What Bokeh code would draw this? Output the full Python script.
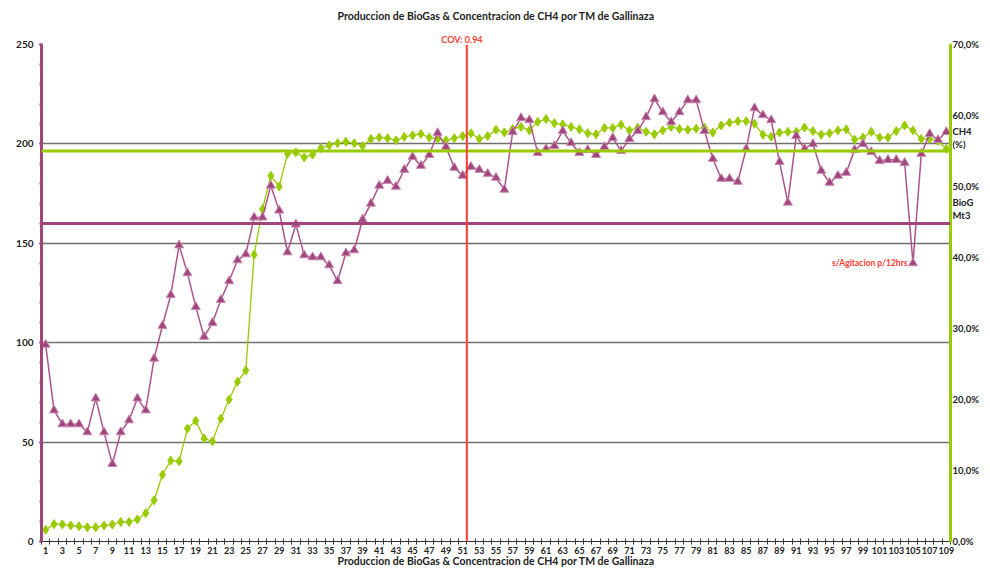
from bokeh.plotting import figure
from bokeh.models import Range1d, LinearAxis, FixedTicker, Span, Label, Title
from bokeh.embed import file_html
from bokeh.resources import INLINE

# ---------------- data ----------------
days = list(range(1, 110))

biogas = [
    99, 66, 59, 59, 59, 55, 72, 55, 39, 55,
    61, 72, 66, 92, 108.5, 124, 149, 135, 118, 103,
    110, 121.5, 131, 141.5, 144.5, 163, 163, 179, 166.5, 145.5,
    159.5, 144, 143, 143, 139, 131, 145, 146.5, 162, 170,
    179, 181.5, 178.5, 187, 193.5, 189, 194.5, 205.5, 198.5, 188,
    184, 188.5, 187, 185, 183, 177, 206, 213, 212, 195.5,
    197.5, 199, 206.5, 200.5, 195.5, 197, 194.5, 198.5, 203, 196.5,
    202.5, 206.5, 213.5, 222.5, 216, 211, 216, 222, 222, 206.5,
    192.5, 182.5, 182.5, 181, 197.5, 218, 214.5, 212, 191, 170.5,
    204, 197.5, 200, 186.5, 180.5, 184, 185.5, 197, 200, 196,
    191.5, 192, 192, 190.5, 140, 195, 205, 202, 206,
]

ch4 = [
    1.65, 2.45, 2.4, 2.25, 2.15, 2.0, 2.0, 2.25, 2.4, 2.75,
    2.75, 3.1, 4.0, 5.8, 9.4, 11.4, 11.3, 15.9, 17.0, 14.5,
    14.1, 17.3, 20.0, 22.5, 24.1,
    40.4, 46.8, 51.5, 50.0, 54.6, 54.8, 54.1, 54.5, 55.4, 55.8,
    56.1, 56.3, 56.1, 55.7, 56.7, 56.9, 56.8, 56.5, 57.0, 57.2, 57.4,
    56.9, 56.7, 56.5, 56.8, 57.1, 57.5, 56.7, 57.1, 58.0, 57.6,
    58.1, 58.4, 57.9, 59.1, 59.5, 58.9, 58.75, 58.4, 58.05, 57.5,
    57.35, 58.25, 58.25,
    58.7, 57.9, 58.3, 57.7, 57.35, 57.9, 58.4, 58.1, 58.0, 58.15,
    58.3, 57.6, 58.6, 59.0, 59.2, 59.2, 58.85, 57.3, 57.0, 57.6,
    57.7, 57.7,
    58.3, 57.8, 57.3, 57.5, 57.9, 58.05, 56.6, 56.9, 57.7, 56.9,
    56.9, 57.8, 58.6, 57.9, 56.7, 56.7, 56.4, 55.3,
]

x_tick_values = [d for d in days if d % 2 == 1]
x_tick_labels = [str(d) for d in x_tick_values]
left_ticks = [0, 50, 100, 150, 200, 250]
right_ticks = [0, 10, 20, 30, 40, 50, 60, 70]
right_tick_labels = ["0,0%", "10,0%", "20,0%", "30,0%", "40,0%", "50,0%", "60,0%", "70,0%"]

biogas_ref = 160
ch4_ref = 55
cov_position = 51.5
cov_text = "COV: 0.94"
note_day = 105
note_text = "s/Agitacion p/12hrs"
title_text = "Produccion de BioGas & Concentracion de CH4 por TM de Gallinaza"
legend_ch4 = "CH4\n(%)"
legend_bio = "BioG\nMt3"

# ---------------- style / layout ----------------
MAG = "#A0467D"
MAG_LINE = "#AC5589"
GRN = "#99CC00"
RED = "#FF3B2F"
INK = "#222222"
FONT = "Lato"

W, H = 982, 569
BL, BR, BT, BB = 41, 30, 44, 25
X0, X1 = 0.5, 109.5
legend_ch4_pos = 56.8   # vertical slot (right scale) of the CH4 key
legend_bio_pos = 46.8   # vertical slot (right scale) of the BioG key

p = figure(width=W, height=H,
           x_range=Range1d(X0, X1), y_range=Range1d(0, 250),
           output_backend="svg", toolbar_location=None, title_location=None,
           min_border_left=BL, min_border_right=BR,
           min_border_top=BT, min_border_bottom=BB,
           background_fill_color="white", border_fill_color="white")
p.outline_line_color = None

# titles above the frame: first added sits nearest the frame
frame_w_est = W - BL - 33
cov_offset = (cov_position - X0) / (X1 - X0) * frame_w_est - 25
p.add_layout(Title(text=cov_text, align="left", offset=cov_offset,
                   text_font=FONT, text_font_size="9px", text_font_style="bold",
                   text_color=RED, standoff=0), "above")
p.add_layout(Title(text=title_text, align="center", vertical_align="top",
                   text_font=FONT, text_font_size="10.5px", text_font_style="bold",
                   text_color=INK, standoff=16), "above")

p.extra_y_ranges = {"pct": Range1d(0, 70)}

# x axis
xa = p.xaxis[0]
xa.ticker = FixedTicker(ticks=x_tick_values, minor_ticks=[d - 0.5 for d in days] + [days[-1] + 0.5])
xa.major_label_overrides = {v: l for v, l in zip(x_tick_values, x_tick_labels)}
xa.major_tick_line_color = None
xa.major_tick_in = 0
xa.major_tick_out = 0
xa.minor_tick_in = 3
xa.minor_tick_out = 3
xa.minor_tick_line_color = "#333333"
xa.axis_line_color = "#333333"
xa.major_label_text_font = FONT
xa.major_label_text_font_size = "9px"
xa.major_label_text_font_style = "bold"
xa.major_label_text_color = INK
xa.major_label_standoff = 2
xa.axis_label = title_text
xa.axis_label_text_font = FONT
xa.axis_label_text_font_size = "10.5px"
xa.axis_label_text_font_style = "bold"
xa.axis_label_text_color = INK
xa.axis_label_standoff = -2

# left axis
ya = p.yaxis[0]
ya.ticker = FixedTicker(ticks=left_ticks, minor_ticks=list(range(0, 251, 10)))
ya.axis_line_color = MAG
ya.axis_line_width = 3
ya.major_tick_line_color = MAG
ya.major_tick_line_width = 2
ya.major_tick_in = 1
ya.major_tick_out = 2
ya.minor_tick_line_color = MAG
ya.minor_tick_line_width = 2
ya.minor_tick_in = 1
ya.minor_tick_out = 2
ya.major_label_text_font = FONT
ya.major_label_text_font_size = "10px"
ya.major_label_text_font_style = "bold"
ya.major_label_text_color = INK
ya.major_label_standoff = 6

# right axis (also carries the two series keys)
ra = LinearAxis(y_range_name="pct")
ra.ticker = FixedTicker(ticks=right_ticks + [legend_bio_pos, legend_ch4_pos],
                        minor_ticks=list(range(0, 71, 2)))
overrides = {v: l for v, l in zip(right_ticks, right_tick_labels)}
overrides[legend_ch4_pos] = legend_ch4
overrides[legend_bio_pos] = legend_bio
ra.major_label_overrides = overrides
ra.axis_line_color = GRN
ra.axis_line_width = 3
ra.major_tick_line_color = None
ra.major_tick_in = 0
ra.major_tick_out = 0
ra.minor_tick_line_color = GRN
ra.minor_tick_line_width = 2
ra.minor_tick_in = 1
ra.minor_tick_out = 1
ra.major_label_text_font = FONT
ra.major_label_text_font_size = "9.5px"
ra.major_label_text_font_style = "bold"
ra.major_label_text_color = INK
ra.major_label_standoff = 1
p.add_layout(ra, "right")

# grid
p.xgrid.visible = False
p.ygrid.ticker = FixedTicker(ticks=left_ticks)
p.ygrid.grid_line_color = "#707070"
p.ygrid.grid_line_width = 1.5

# reference lines
p.add_layout(Span(location=biogas_ref, dimension="width", line_color=MAG, line_width=3))
p.add_layout(Span(location=ch4_ref, dimension="width", y_range_name="pct", line_color=GRN, line_width=3))
p.add_layout(Span(location=cov_position, dimension="height", line_color=RED, line_width=2))

# series
p.line(days, ch4, y_range_name="pct", line_color=GRN, line_width=1.3)
p.scatter(days, ch4, y_range_name="pct", marker="diamond", size=9,
          fill_color=GRN, line_color=GRN, line_width=1)
p.line(days, biogas, line_color=MAG_LINE, line_width=1.5)
p.scatter(days, biogas, marker="triangle", size=9,
          fill_color=MAG, line_color="#C987AE", line_width=1)

# annotation inside the frame
p.add_layout(Label(x=note_day - 0.65, y=biogas[note_day - 1], text=note_text,
                   text_align="right", text_baseline="middle", text_font=FONT,
                   text_font_size="8.5px", text_font_style="bold", text_color=RED))

open("out.html", "w").write(file_html(p, INLINE))
